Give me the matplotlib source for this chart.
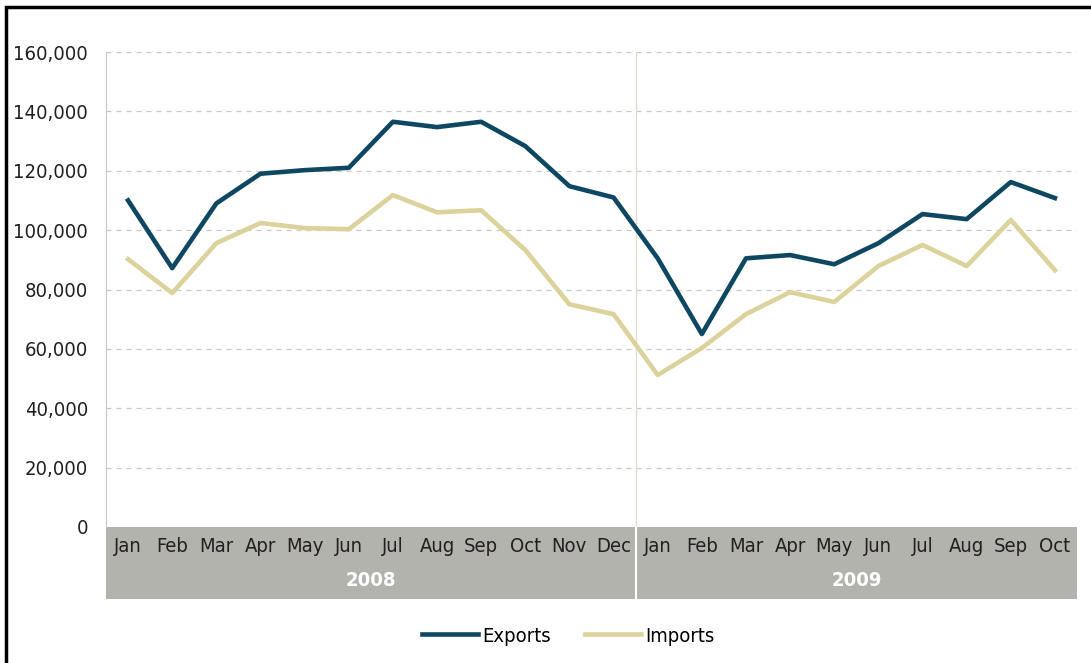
import matplotlib
matplotlib.use("Agg")
import matplotlib.pyplot as plt
from matplotlib.patches import Rectangle
from matplotlib.ticker import FuncFormatter

# data
months = ["Jan", "Feb", "Mar", "Apr", "May", "Jun", "Jul", "Aug", "Sep", "Oct", "Nov", "Dec",
          "Jan", "Feb", "Mar", "Apr", "May", "Jun", "Jul", "Aug", "Sep", "Oct"]
years = ["2008", "2009"]
months_per_year = [12, 10]
exports = [110000, 87200, 109000, 119000, 120200, 121000, 136500, 134700, 136500, 128300, 114800, 111000,
           90500, 65000, 90500, 91600, 88500, 95600, 105400, 103700, 116200, 110800]
imports = [90200, 78800, 95600, 102400, 100700, 100300, 111800, 106000, 106700, 93300, 75000, 71700,
           51200, 60300, 71700, 79100, 75800, 87900, 95000, 87900, 103400, 86500]

plt.rcParams["font.family"] = ["DejaVu Sans"]
plt.rcParams["font.stretch"] = "condensed"

W, H = 1091, 663
fig = plt.figure(figsize=(W / 100, H / 100), dpi=100)
ax = fig.add_axes([106 / W, (H - 527) / H, (1077 - 106) / W, (527 - 52) / H])

x = list(range(len(months)))
ax.plot(x, exports, color="#0e4761", lw=3.3, label="Exports")
ax.plot(x, imports, color="#dcd29c", lw=3.3, label="Imports")

ax.set_xlim(-0.5, len(months) - 0.5)
ax.set_ylim(0, 160000)
ax.set_yticks(range(0, 160001, 20000))
ax.yaxis.set_major_formatter(FuncFormatter(lambda v, p: f"{int(v):,}"))
ax.tick_params(axis="y", length=0, pad=13, labelsize=14.5, labelcolor="#231f20")
ax.set_xticks([])
for v in range(20000, 160001, 20000):
    ax.axhline(v, color="#c8c8c8", lw=0.9, ls=(0, (4, 4)), zorder=0)
for s in ["top", "right", "bottom"]:
    ax.spines[s].set_visible(False)
ax.spines["left"].set_color("#c8c8c8")
ax.spines["left"].set_linewidth(0.9)

# year divider
split = months_per_year[0] - 0.5
ax.axvline(split, color="#e2dace", lw=0.9, zorder=0)

# grey category band below the axis
band_h = 72 / 475
ax.add_patch(Rectangle((0, -band_h), 1, band_h, transform=ax.transAxes,
                       facecolor="#b3b3ae", edgecolor="none", clip_on=False))
trans = ax.get_xaxis_transform()
ax.plot([split, split], [-band_h, 0], transform=trans, color="white", lw=1.5, clip_on=False)
for i, m in enumerate(months):
    ax.text(i, -19 / 475, m, transform=trans, ha="center", va="center",
            fontsize=14.5, color="#231f20")
start = 0
for yr, n in zip(years, months_per_year):
    ax.text(start + (n - 1) / 2, -53 / 475, yr, transform=trans, ha="center", va="center",
            fontsize=14.5, color="white", fontweight="bold")
    start += n

fig.legend(loc="center", bbox_to_anchor=(568 / W, 1 - 636 / H), ncol=2, frameon=False,
           fontsize=14.5, handlelength=2.8, columnspacing=1.7, handletextpad=0.2)

# black frame around the figure
fig.add_artist(Rectangle((6 / W, -0.1), 1.2, 1 - 7 / H + 0.1, transform=fig.transFigure,
                         fill=False, edgecolor="black", lw=2.5))

fig.savefig("out.png", dpi=100)
